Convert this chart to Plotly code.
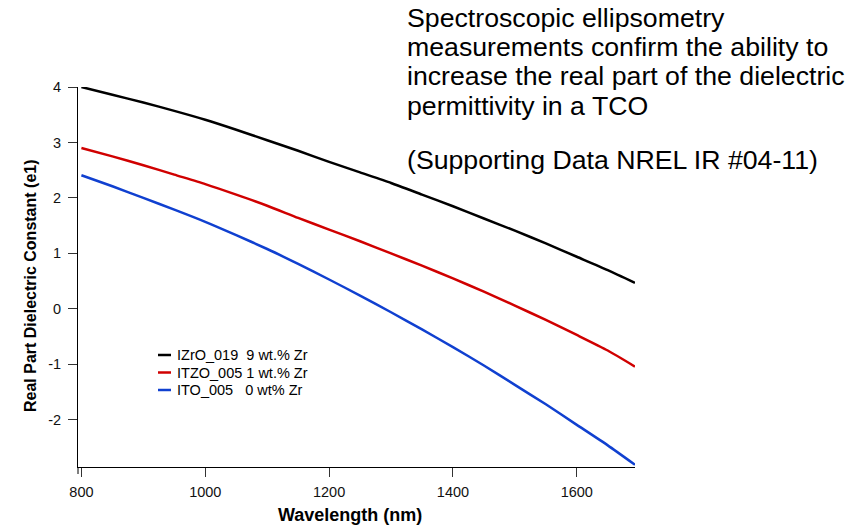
import plotly.graph_objects as go

# ---- data ----
wavelength = [800, 850, 900, 950, 1000, 1050, 1100, 1150, 1200, 1250, 1300,
              1350, 1400, 1450, 1500, 1550, 1600, 1650, 1694]
izro_019 = [4.00, 3.86, 3.72, 3.57, 3.41, 3.23, 3.04, 2.85, 2.65, 2.46, 2.27,
            2.06, 1.85, 1.63, 1.41, 1.18, 0.94, 0.70, 0.47]
itzo_005 = [2.90, 2.75, 2.59, 2.42, 2.25, 2.06, 1.86, 1.64, 1.43, 1.22, 1.00,
            0.78, 0.55, 0.31, 0.06, -0.20, -0.47, -0.75, -1.04]
ito_005 = [2.41, 2.21, 2.00, 1.79, 1.57, 1.33, 1.08, 0.81, 0.53, 0.24, -0.06,
           -0.37, -0.69, -1.02, -1.37, -1.72, -2.09, -2.46, -2.81]

series_names = ["IZrO_019\u00a0\u00a09 wt.% Zr",
                "ITZO_005 1 wt.% Zr",
                "ITO_005\u00a0\u00a0\u00a00 wt% Zr"]
series_values = [izro_019, itzo_005, ito_005]
series_colors = ["#000000", "#d00000", "#1040d0"]

x_ticks = [800, 1000, 1200, 1400, 1600]
y_ticks = [-2, -1, 0, 1, 2, 3, 4]
y_tick_labels = ["-2", "-1", "0", "1", "2", "3", "4"]

title_lines = ["Spectroscopic ellipsometry",
               "measurements confirm the ability to",
               "increase the real part of the dielectric",
               "permittivity in a TCO",
               "(Supporting Data NREL IR #04-11)"]

# ---- layout geometry (pixels) ----
W, H = 855, 527
ML, MR, MT, MB = 78, 220, 87, 60
PW = W - ML - MR
PH = H - MT - MB


def px(xp):
    return (xp - ML) / PW


def py(yp):
    return (H - MB - yp) / PH


FONT = "Liberation Sans, Arial, sans-serif"

fig = go.Figure()
for name, vals, col in zip(series_names, series_values, series_colors):
    fig.add_trace(go.Scatter(x=wavelength, y=vals, mode="lines", name=name,
                             line=dict(color=col, width=2.5, shape="spline",
                                       smoothing=0.6),
                             showlegend=False))

fig.update_layout(
    width=W, height=H,
    margin=dict(l=ML, r=MR, t=MT, b=MB),
    paper_bgcolor="white", plot_bgcolor="white",
    font=dict(family=FONT, color="black"),
    showlegend=False,
)

fig.update_xaxes(range=[794.5, 1694], tickvals=x_ticks,
                 showgrid=False, zeroline=False, showline=True,
                 linecolor="black", linewidth=1,
                 ticks="outside", ticklen=9, tickcolor="#333", tickwidth=1,
                 ticklabelstandoff=3,
                 tickfont=dict(size=14.5, family=FONT, color="#111"))
fig.update_yaxes(range=[-2.85, 4.0], tickvals=y_ticks, ticktext=y_tick_labels,
                 showgrid=False, zeroline=False, showline=True,
                 linecolor="black", linewidth=1,
                 ticks="outside", ticklen=9, tickcolor="#333", tickwidth=1,
                 ticklabelstandoff=4,
                 tickfont=dict(size=14.5, family=FONT, color="#111"))

# y-axis line extension below the x axis (Igor style)
fig.add_shape(type="line", xref="paper", yref="paper",
              x0=0, x1=0, y0=0, y1=-7 / PH,
              line=dict(color="black", width=1))

# legend (drawn as sample lines + text, Igor-style compact box)
for i, (name, col) in enumerate(zip(series_names, series_colors)):
    yc = 355 + 17.5 * i
    fig.add_shape(type="line", xref="paper", yref="paper",
                  x0=px(158), x1=px(171), y0=py(yc), y1=py(yc),
                  line=dict(color=col, width=2.5))
    fig.add_annotation(text=name, xref="paper", yref="paper",
                       x=px(175), y=py(yc), showarrow=False,
                       xanchor="left", yanchor="middle",
                       font=dict(size=14.5, family=FONT, color="black"))

# axis titles
fig.add_annotation(text="<b>Real Part Dielectric Constant (e1)</b>",
                   xref="paper", yref="paper", x=px(30), y=py(286),
                   textangle=-90, showarrow=False,
                   font=dict(size=16, family=FONT, color="black"),
                   xanchor="center", yanchor="middle")
fig.add_annotation(text="<b>Wavelength (nm)</b>",
                   xref="paper", yref="paper", x=px(350), y=py(515),
                   showarrow=False,
                   font=dict(size=18, family=FONT, color="black"),
                   xanchor="center", yanchor="middle")

# title block text
for line, yc in zip(title_lines, [18, 47, 76, 106, 160]):
    fig.add_annotation(text=line, xref="paper", yref="paper",
                       x=px(405), y=py(yc), showarrow=False,
                       xanchor="left", yanchor="middle",
                       font=dict(size=26.7, family=FONT, color="black"))

fig.write_html("out.html")
